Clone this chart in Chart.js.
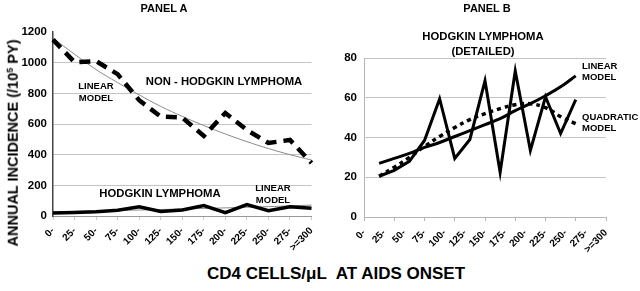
<!DOCTYPE html>
<html>
<head>
<meta charset="utf-8">
<script src="https://cdn.jsdelivr.net/npm/chart.js@4.4.1/dist/chart.umd.min.js"></script>
<style>
  body { margin: 0; background: #fff; }
  #wrap { position: relative; width: 640px; height: 291px; overflow: hidden;
          font-family: 'Liberation Sans', Arial, sans-serif; font-weight: bold; color: #000; }
  .box { position: absolute; }
  .t { position: absolute; white-space: nowrap; line-height: 1; transform: translate(-50%, -50%); text-align: center; }
  .l { transform: translate(0, -50%); text-align: left; }
</style>
</head>
<body>
<div id="wrap">
  <div class="box" style="left:0;top:0;width:325px;height:262px"><canvas id="panel-a"></canvas></div>
  <div class="box" style="left:325px;top:0;width:315px;height:262px"><canvas id="panel-b"></canvas></div>

  <div class="t" style="left:164px;top:8px;font-size:11px">PANEL A</div>
  <div class="t" style="left:487px;top:8px;font-size:11px">PANEL B</div>
  <div class="t" style="left:483px;top:44px;font-size:11.3px;line-height:15px">HODGKIN LYMPHOMA<br>(DETAILED)</div>

  <div class="t" style="left:224px;top:82px;font-size:11.3px">NON - HODGKIN LYMPHOMA</div>
  <div class="t" style="left:96px;top:92px;font-size:9.5px;line-height:12px">LINEAR<br>MODEL</div>
  <div class="t" style="left:160px;top:194px;font-size:11.3px">HODGKIN LYMPHOMA</div>
  <div class="t" style="left:273px;top:194px;font-size:9.5px;line-height:12px">LINEAR<br>MODEL</div>

  <div class="t l" style="left:582px;top:71px;font-size:9.5px;line-height:11px">LINEAR<br>MODEL</div>
  <div class="t l" style="left:582px;top:122px;font-size:9.5px;line-height:11px">QUADRATIC<br>MODEL</div>

  <div class="t" style="left:13px;top:143px;font-size:14.5px;transform:translate(-50%,-50%) rotate(-90deg)">ANNUAL INCIDENCE (/10<sup style="font-size:9px;vertical-align:5px;line-height:0">5</sup> PY)</div>
  <div class="t" style="left:336px;top:273px;font-size:17px">CD4 CELLS/&mu;L&nbsp; AT AIDS ONSET</div>
</div>

<script>
// CD4 strata at AIDS onset
const CD4_LABELS = ['0-', '25-', '50-', '75-', '100-', '125-', '150-', '175-', '200-', '225-', '250-', '275-', '>=300'];

// Panel A: incidence per 10^5 person-years
const NHL_RATE = [1150, 1003, 1010, 925, 755, 648, 642, 522, 672, 561, 476, 496, 346];
const NHL_MODEL = [1160, 1055, 955, 870, 790, 715, 650, 590, 535, 485, 440, 400, 365];
const HL_RATE = [20, 23, 28, 38, 60, 30, 39, 68, 22, 74, 34, 60, 50];
const HL_MODEL = [27, 30, 33, 36, 39, 42, 46, 49, 53, 57, 61, 66, 71];
const A_Y_TICKS = [0, 200, 400, 600, 800, 1000, 1200];

// Panel B: Hodgkin detail (finer strata, plotted on a 0..16 position axis)
const B_POS = [1, 2, 3, 4, 5, 6, 7, 8, 9, 10, 11, 12, 13, 14];
const B_HL = [20.5, 23.5, 28, 38.5, 59.5, 29.5, 39, 68.5, 22.5, 73.5, 33.5, 60.5, 42, 59];
const B_LINEAR = [27, 29.5, 32, 35, 37.5, 40.5, 43.5, 46.5, 49.5, 53.5, 57, 61, 65.5, 71];
const B_QUAD = [20.5, 25, 30, 35.5, 40.5, 45, 49, 52, 54.5, 56.5, 57, 55, 50.5, 47];
const B_Y_TICKS = [0, 20, 40, 60, 80];

Chart.defaults.font.family = "'Liberation Sans', Arial, sans-serif";
Chart.defaults.font.weight = 'bold';
Chart.defaults.color = '#000';
Chart.defaults.animation = false;

const GRID = '#c4c4c4';
const tickFont = { size: 11.5, weight: 'bold' };
const catFont = { size: 10, weight: 'bold' };

function pts(xs, ys) {
  return xs.map((x, i) => ({ x, y: ys[i] }));
}

function renderPanelA() {
  const ctx = document.getElementById('panel-a');
  new Chart(ctx.getContext('2d'), {
    type: 'line',
    data: {
      labels: CD4_LABELS,
      datasets: [
        { label: 'Hodgkin', data: HL_RATE, borderColor: '#000', borderWidth: 3.5,
          pointRadius: 0, tension: 0, fill: false },
        { label: 'Non-Hodgkin', data: NHL_RATE, borderColor: '#000', borderWidth: 4.5,
          borderDash: [11, 7], pointRadius: 0, tension: 0, fill: false },
        { label: 'NHL model', data: NHL_MODEL, borderColor: '#8a8a8a', borderWidth: 1,
          pointRadius: 0, tension: 0.4, fill: false },
        { label: 'HL model', data: HL_MODEL, borderColor: '#8a8a8a', borderWidth: 1,
          pointRadius: 0, tension: 0.4, fill: false }
      ]
    },
    options: {
      responsive: true,
      maintainAspectRatio: false,
      layout: { padding: { top: 32, right: 10, left: 0, bottom: 0 } },
      plugins: { legend: { display: false }, tooltip: { enabled: false } },
      scales: {
        x: {
          offset: false,
          grid: { drawOnChartArea: false, drawTicks: true, tickLength: 4, color: '#ccc' },
          border: { color: '#999' },
          ticks: { font: catFont, minRotation: 45, maxRotation: 45, padding: 5, autoSkip: false },
          afterFit: s => { s.height = 46; }
        },
        y: {
          min: 0, max: 1200,
          afterBuildTicks: s => { s.ticks = A_Y_TICKS.map(v => ({ value: v })); },
          grid: { color: c => (c.tick.value === 0 || c.tick.value === 1200) ? 'rgba(0,0,0,0)' : GRID,
                  drawTicks: false },
          border: { color: '#444', width: 1.5 },
          ticks: { font: tickFont, padding: 6, callback: v => String(v) },
          afterFit: s => { s.width = 53; }
        }
      }
    }
  });
}

function renderPanelB() {
  const ctx = document.getElementById('panel-b');
  new Chart(ctx.getContext('2d'), {
    type: 'line',
    data: {
      datasets: [
        { label: 'Hodgkin detailed', data: pts(B_POS, B_HL), borderColor: '#000', borderWidth: 3,
          pointRadius: 0, tension: 0, fill: false, xAxisID: 'x' },
        { label: 'Linear model', data: pts(B_POS, B_LINEAR), borderColor: '#000', borderWidth: 3,
          pointRadius: 0, tension: 0.4, fill: false, xAxisID: 'x' },
        { label: 'Quadratic model', data: pts(B_POS, B_QUAD), borderColor: '#000', borderWidth: 3.5,
          borderDash: [4, 4], pointRadius: 0, tension: 0.4, fill: false, xAxisID: 'x' }
      ]
    },
    options: {
      responsive: true,
      maintainAspectRatio: false,
      layout: { padding: { top: 58, right: 34, left: 0, bottom: 0 } },
      plugins: { legend: { display: false }, tooltip: { enabled: false } },
      scales: {
        x: {
          type: 'linear', min: 0, max: 16, weight: 0,
          ticks: { stepSize: 2, display: false },
          grid: { drawOnChartArea: false, drawTicks: true, tickLength: 4, color: '#b5b5b5' },
          border: { color: '#b5b5b5' },
          afterFit: s => { s.height = 5; }
        },
        xl: {
          type: 'category', position: 'bottom', labels: CD4_LABELS, offset: false, weight: 1,
          grid: { display: false, drawTicks: false },
          border: { display: false },
          ticks: { font: catFont, minRotation: 45, maxRotation: 45, padding: 5, autoSkip: false },
          afterFit: s => { s.height = 40; }
        },
        y: {
          min: 0, max: 80,
          afterBuildTicks: s => { s.ticks = B_Y_TICKS.map(v => ({ value: v })); },
          grid: { color: c => c.tick.value === 0 ? 'rgba(0,0,0,0)' : GRID, drawTicks: false },
          border: { color: '#b5b5b5' },
          ticks: { font: tickFont, padding: 7 },
          afterFit: s => { s.width = 39; }
        }
      }
    }
  });
}

renderPanelA();
renderPanelB();
</script>
</body>
</html>
